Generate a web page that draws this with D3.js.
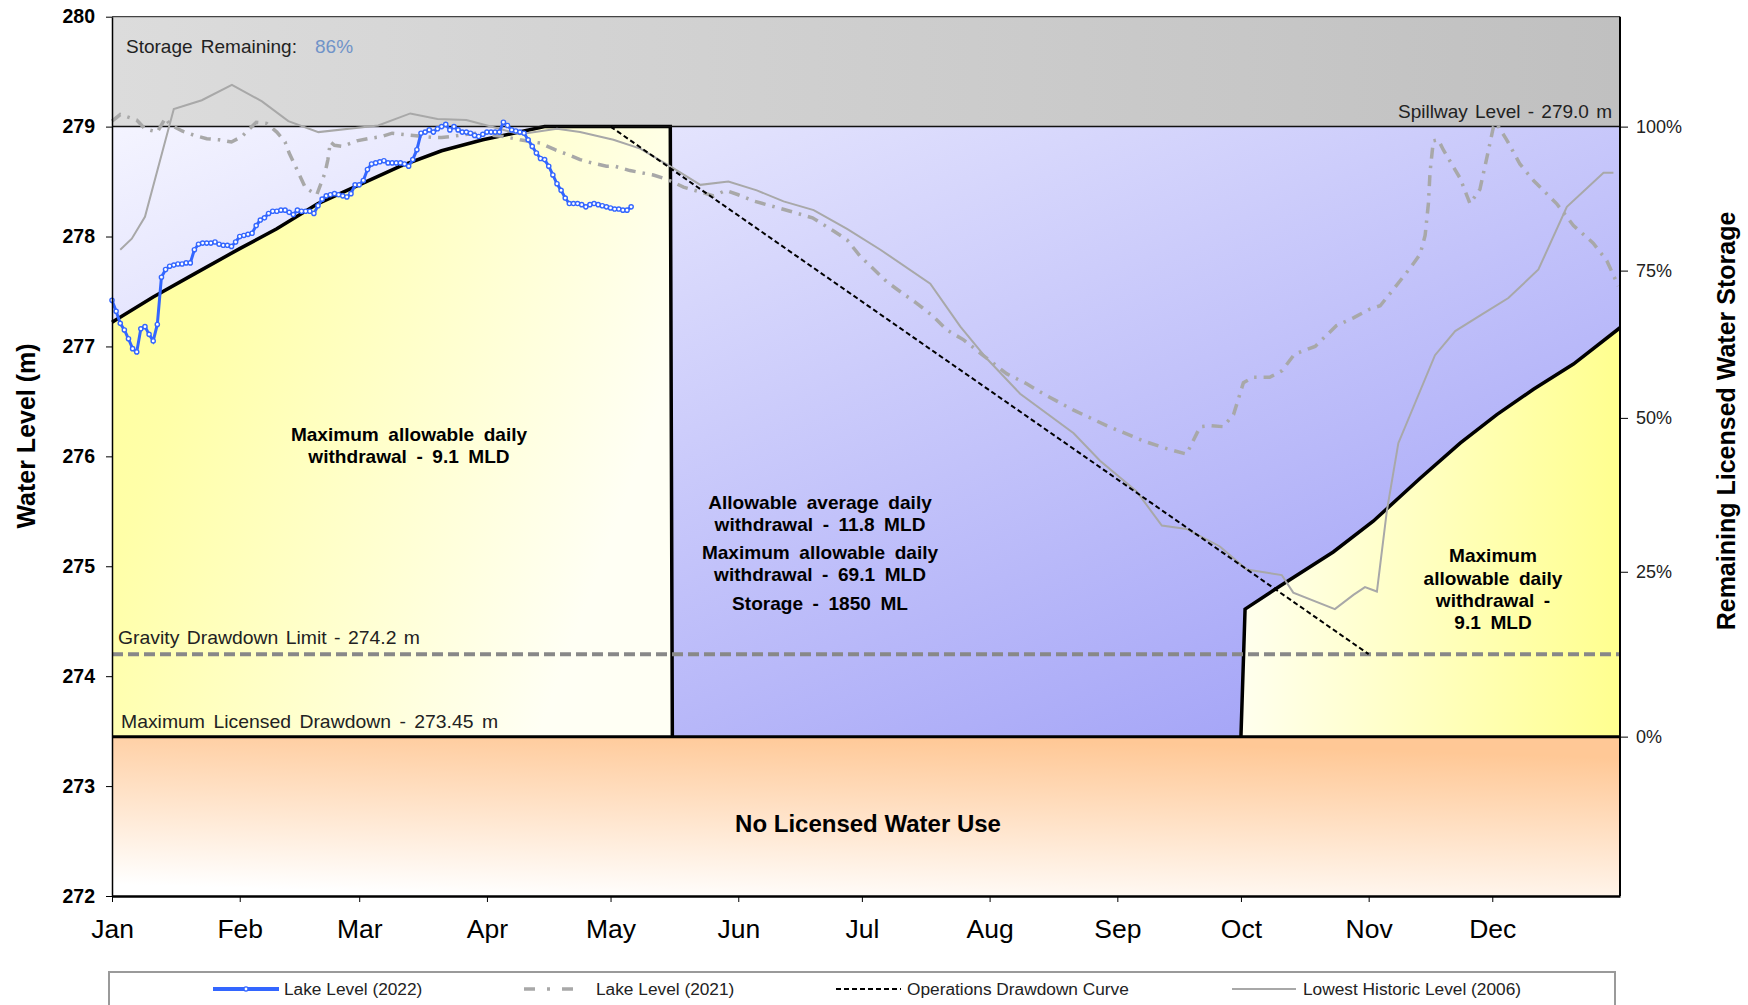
<!DOCTYPE html>
<html>
<head>
<meta charset="utf-8">
<script src="https://cdn.jsdelivr.net/npm/d3@7"></script>
<style>
    body { margin: 0; background: #fff; }
    svg { display: block; font-family: "Liberation Sans", Arial, sans-serif; }
</style>
</head>
<body>
<div class="container"></div>
<script>
// x axis: day of year (0..366), month starts
const monthNames = ["Jan", "Feb", "Mar", "Apr", "May", "Jun", "Jul", "Aug", "Sep", "Oct", "Nov", "Dec"];
const monthStart = [0, 31, 60, 91, 121, 152, 182, 213, 244, 274, 305, 335];
const levelTicks = [272, 273, 274, 275, 276, 277, 278, 279, 280];

// right axis: storage % vs level (not linear)
const storagePct = [0, 25, 50, 75, 100];
const storageLevel = [273.45, 274.95, 276.35, 277.69, 279.0];

const spillway = 279.0;
const gravityLimit = 274.2;
const maxDrawdown = 273.45;
const storageRemaining = "86%";

// lake level 2022, daily from Jan 1
const lake2022 = [
    277.42, 277.32, 277.21, 277.15, 277.07, 276.98, 276.95, 277.16, 277.18, 277.11,
    277.05, 277.20, 277.63, 277.70, 277.73, 277.74, 277.75, 277.75, 277.76, 277.76,
    277.88, 277.93, 277.94, 277.94, 277.94, 277.95, 277.93, 277.92, 277.92, 277.91,
    277.95, 278.00, 278.01, 278.02, 278.03, 278.10, 278.15, 278.17, 278.21, 278.23,
    278.23, 278.24, 278.24, 278.22, 278.20, 278.24, 278.23, 278.23, 278.23, 278.21,
    278.28, 278.34, 278.37, 278.38, 278.39, 278.38, 278.37, 278.36, 278.39, 278.47,
    278.47, 278.51, 278.61, 278.66, 278.67, 278.68, 278.69, 278.67, 278.67, 278.67,
    278.67, 278.66, 278.64, 278.70, 278.79, 278.94, 278.95, 278.97, 278.95, 278.98,
    279.00, 279.02, 278.97, 279.00, 278.97, 278.95, 278.95, 278.94, 278.92, 278.91,
    278.93, 278.95, 278.95, 278.95, 278.95, 279.04, 279.01, 278.97, 278.96, 278.95,
    278.94, 278.88, 278.82, 278.76, 278.71, 278.70, 278.64, 278.56, 278.48, 278.42,
    278.35, 278.30, 278.30, 278.30, 278.29, 278.27, 278.29, 278.30, 278.29, 278.28,
    278.27, 278.26, 278.25, 278.25, 278.24, 278.24, 278.27
];

// lake level 2021
const lake2021Day = [0, 2, 6, 8, 11, 13, 14, 17, 20, 23, 26, 29, 31.5, 35, 37.5, 40, 42, 43, 44.5, 47,
    49.7, 51.7, 52.4, 53, 54, 56, 59.4, 62, 65.5, 68, 78, 80, 88.5, 95, 99, 104, 107.5, 111, 113.6, 116.4,
    120, 122, 125.7, 131.4, 134.7, 138.7, 146, 149, 152, 156, 164.6, 170, 174.3, 178.4, 181.6, 188, 192, 195.4, 199.4, 202.6,
    206.7, 210.7, 217.2, 222, 226, 233.4, 241.4, 250.3, 256, 260.8, 264.1, 266.5, 269.7, 272.2, 274.6, 277, 281, 284, 287, 292,
    297.2, 301.3, 305.3, 307.8, 311, 315, 317.5, 318.7, 319.5, 319.9, 320.7, 321.9, 323.1, 327.2, 329.6, 332, 333.7, 335.3, 336, 338.5,
    341.7, 345, 350.6, 354.7, 359.5, 362.8, 365.6];
const lake2021Level = [279.05, 279.11, 279.06, 278.98, 278.95, 279.08, 279.02, 278.96, 278.92, 278.89, 278.88, 278.86, 278.91, 279.04, 279.03, 278.95, 278.86, 278.76, 278.64, 278.44,
    278.38, 278.58, 278.70, 278.86, 278.83, 278.82, 278.87, 278.89, 278.91, 278.94, 278.90, 278.90, 278.94, 278.91, 278.88, 278.85, 278.79, 278.74, 278.70, 278.67,
    278.64, 278.64, 278.60, 278.56, 278.52, 278.45, 278.37, 278.42, 278.38, 278.32, 278.23, 278.17, 278.07, 277.97, 277.82, 277.59, 277.48, 277.39, 277.27, 277.15,
    277.06, 276.94, 276.75, 276.66, 276.57, 276.42, 276.28, 276.14, 276.07, 276.02, 276.27, 276.28, 276.27, 276.38, 276.67, 276.72, 276.72, 276.78, 276.93, 277.00,
    277.19, 277.26, 277.34, 277.37, 277.52, 277.71, 277.84, 278.01, 278.30, 278.59, 278.87, 278.88, 278.79, 278.53, 278.30, 278.43, 278.72, 279.00, 279.03, 278.88,
    278.66, 278.51, 278.30, 278.10, 277.94, 277.78, 277.55];

// lowest historic level (2006)
const low2006Day = [2, 4.8, 8, 15, 21.8, 29.1, 36.4, 42.8, 50.1, 64.6, 72.4, 79, 86, 94, 99, 108, 113.6, 121.7, 128.2, 136.3,
    142.8, 149.6, 156.5, 163, 170.3, 178.4, 186.5, 198.6, 205.9, 212.3, 220.4, 233.4, 239.8, 248.7, 254.8, 260.8, 268.9, 275.4, 283.9, 286.7,
    296.8, 301.3, 304.1, 307, 309.4, 312.2, 321.1, 326, 332, 338.9, 346.2, 353.1, 362, 364.4];
const low2006Level = [277.88, 277.98, 278.18, 279.16, 279.24, 279.38, 279.23, 279.05, 278.95, 279.01, 279.12, 279.07, 279.06, 278.98, 278.93, 278.98, 278.95, 278.88, 278.80, 278.62,
    278.47, 278.50, 278.42, 278.32, 278.24, 278.07, 277.88, 277.57, 277.18, 276.89, 276.57, 276.21, 275.96, 275.68, 275.37, 275.34, 275.18, 274.97, 274.92, 274.76,
    274.61, 274.74, 274.81, 274.77, 275.50, 276.12, 276.92, 277.14, 277.28, 277.44, 277.70, 278.27, 278.58, 278.58];

// operations drawdown curve
const opsDay = [121, 305];
const opsLevel = [279.0, 274.2];

// licence rule curves (edges of the 9.1 MLD zones)
const ruleLeftDay = [0, 10, 20, 31, 40, 50, 60, 70, 80, 90, 100, 105, 135.5, 136];
const ruleLeftLevel = [277.22, 277.45, 277.66, 277.89, 278.07, 278.30, 278.47, 278.64, 278.78, 278.88, 278.96, 279.0, 279.0, 273.45];
const ruleRightDay = [274, 275, 283.5, 296.4, 306.1, 317.5, 327.2, 336.1, 345, 354.7, 366];
const ruleRightLevel = [273.45, 274.61, 274.82, 275.13, 275.41, 275.80, 276.12, 276.38, 276.61, 276.84, 277.17];

let margin = { top: 16.7, right: 128, bottom: 109, left: 112 },
    width = 1748 - margin.left - margin.right,
    height = 1005 - margin.top - margin.bottom;

let root = d3.select(".container")
    .append("svg")
    .attr("width", 1748)
    .attr("height", 1005);

let svg = root.append("g")
    .attr("transform", "translate(" + margin.left + "," + margin.top + ")");

let x = d3.scaleLinear().domain([0, 366]).range([0, width]);
let y = d3.scaleLinear().domain([272, 280]).range([height, 0]);
let yStore = d3.scaleLinear().domain(storagePct).range(storageLevel.map(y));

// gradients
let defs = root.append("defs");
const grad = (id, x1, y1, x2, y2, stops) => {
    let g = defs.append("linearGradient").attr("id", id)
        .attr("x1", x1).attr("y1", y1).attr("x2", x2).attr("y2", y2);
    stops.forEach(s => g.append("stop").attr("offset", s[0]).attr("stop-color", s[1]));
};
grad("gGray", 0, 0, 1, 0, [[0, "#dcdcdc"], [1, "#c0c0c0"]]);
grad("gBlue", 0, 0, 1, 1, [[0, "#f4f4ff"], [1, "#9b9bf6"]]);
grad("gYellowL", 0, 0, 1, 0.4, [[0, "#ffff99"], [0.25, "#ffffa8"], [1, "#fffff4"]]);
grad("gYellowR", 0, 0, 1, 0, [[0, "#ffffee"], [1, "#ffff8f"]]);
grad("gOrange", 0.25, 1, 0.55, 0, [[0, "#ffffff"], [1, "#ffc896"]]);

// background zones
svg.append("rect")
    .attr("x", 0).attr("y", y(280))
    .attr("width", width).attr("height", y(spillway) - y(280))
    .style("fill", "url(#gGray)");

svg.append("rect")
    .attr("x", 0).attr("y", y(spillway))
    .attr("width", width).attr("height", y(maxDrawdown) - y(spillway))
    .style("fill", "url(#gBlue)");

svg.append("rect")
    .attr("x", 0).attr("y", y(maxDrawdown))
    .attr("width", width).attr("height", y(272) - y(maxDrawdown))
    .style("fill", "url(#gOrange)");

let area = d3.area()
    .x(d => x(d[0]))
    .y0(y(maxDrawdown))
    .y1(d => y(d[1]));

let ruleLeft = ruleLeftDay.map((d, i) => [d, ruleLeftLevel[i]]);
let ruleRight = ruleRightDay.map((d, i) => [d, ruleRightLevel[i]]);

svg.append("path").datum(ruleLeft).attr("d", area).style("fill", "url(#gYellowL)");
svg.append("path").datum(ruleRight).attr("d", area).style("fill", "url(#gYellowR)");

let line = d3.line().x(d => x(d[0])).y(d => y(d[1]));

svg.append("path").datum(ruleLeft).attr("d", line)
    .style("fill", "none").attr("stroke", "black").attr("stroke-width", 3.5);
svg.append("path").datum(ruleRight).attr("d", line)
    .style("fill", "none").attr("stroke", "black").attr("stroke-width", 3.5);

// spillway + licensed drawdown lines
svg.append("line")
    .attr("x1", 0).attr("x2", width)
    .attr("y1", y(spillway)).attr("y2", y(spillway))
    .attr("stroke", "#111").attr("stroke-width", 1.5);
svg.append("line")
    .attr("x1", 0).attr("x2", width)
    .attr("y1", y(maxDrawdown)).attr("y2", y(maxDrawdown))
    .attr("stroke", "black").attr("stroke-width", 3);

// gravity limit
svg.append("line")
    .attr("x1", 0).attr("x2", width)
    .attr("y1", y(gravityLimit)).attr("y2", y(gravityLimit))
    .attr("stroke", "#888").attr("stroke-width", 4)
    .attr("stroke-dasharray", "11,5");

// series
svg.append("path")
    .datum(low2006Day.map((d, i) => [d, low2006Level[i]]))
    .attr("d", line)
    .style("fill", "none").attr("stroke", "#a8a8a8").attr("stroke-width", 2);

svg.append("path")
    .datum(lake2021Day.map((d, i) => [d, lake2021Level[i]]))
    .attr("d", line)
    .style("fill", "none").attr("stroke", "#a8a8a8").attr("stroke-width", 3.5)
    .attr("stroke-dasharray", "11,7,2.5,7");

svg.append("path")
    .datum(opsDay.map((d, i) => [d, opsLevel[i]]))
    .attr("d", line)
    .style("fill", "none").attr("stroke", "black").attr("stroke-width", 2)
    .attr("stroke-dasharray", "5,3");

let pts2022 = lake2022.map((v, i) => [i, v]);
svg.append("path")
    .datum(pts2022)
    .attr("d", line)
    .style("fill", "none").attr("stroke", "#3366ff").attr("stroke-width", 3);
svg.append("g")
    .selectAll("circle")
    .data(pts2022)
    .enter()
    .append("circle")
    .attr("cx", d => x(d[0]))
    .attr("cy", d => y(d[1]))
    .attr("r", 2.1)
    .style("fill", "white")
    .attr("stroke", "#3366ff")
    .attr("stroke-width", 1.4);

// frame
svg.append("line").attr("x1", 0).attr("x2", width).attr("y1", 0).attr("y2", 0)
    .attr("stroke", "#444").attr("stroke-width", 1.2);
svg.append("line").attr("x1", width).attr("x2", width).attr("y1", 0).attr("y2", height)
    .attr("stroke", "black").attr("stroke-width", 2);

// axes
let yAxis = svg.append("g")
    .call(d3.axisLeft(y).tickValues(levelTicks).tickSize(6).tickSizeOuter(0).tickPadding(11).tickFormat(d3.format("d")));
yAxis.selectAll("text").style("font-size", "19.5px").style("font-weight", "bold").attr("fill", "black");
yAxis.select(".domain").attr("stroke", "black").attr("stroke-width", 1.5);

let xAxis = svg.append("g")
    .attr("transform", "translate(0," + height + ")")
    .call(d3.axisBottom(x).tickValues(monthStart).tickSize(6).tickSizeOuter(0).tickPadding(17)
        .tickFormat((d, i) => monthNames[i]));
xAxis.selectAll("text").style("font-size", "26.5px").attr("fill", "black");
xAxis.select(".domain").attr("stroke", "black").attr("stroke-width", 2.5);

let rAxis = svg.append("g")
    .attr("transform", "translate(" + width + ",0)")
    .call(d3.axisRight(yStore).tickValues(storagePct).tickSize(8).tickPadding(8).tickFormat(d => d + "%"));
rAxis.select(".domain").remove();
rAxis.selectAll("text").style("font-size", "18px").attr("fill", "#222");

// axis titles
root.append("text")
    .attr("transform", "translate(26,436) rotate(-90)")
    .attr("text-anchor", "middle").attr("dominant-baseline", "central")
    .style("font-size", "25px").style("font-weight", "bold")
    .text("Water Level (m)");
root.append("text")
    .attr("transform", "translate(1726,421) rotate(-90)")
    .attr("text-anchor", "middle").attr("dominant-baseline", "central")
    .style("font-size", "25px").style("font-weight", "bold")
    .text("Remaining Licensed Water Storage");

// annotations (slightly stretched, wide word gaps like the original)
const note = (tx, ty, txt, size, opts) => {
    opts = opts || {};
    root.append("text")
        .attr("transform", "translate(" + tx + "," + ty + ") scale(" + (opts.sx || 1) + ",1)")
        .attr("text-anchor", opts.anchor || "start")
        .style("font-size", size + "px")
        .style("font-weight", opts.weight || "normal")
        .style("word-spacing", (opts.ws || 0) + "px")
        .attr("fill", opts.color || "#222")
        .text(txt);
};
const boldNote = { anchor: "middle", weight: "bold", color: "black", sx: 1.06, ws: 4 };

note(126, 53, "Storage Remaining:", 19, { ws: 3 });
note(315, 53, storageRemaining, 19, { color: "#7093c8" });
note(1612, 118, "Spillway Level - " + spillway.toFixed(1) + " m", 19, { anchor: "end", ws: 2 });
note(118, 644, "Gravity Drawdown Limit - " + gravityLimit.toFixed(1) + " m", 19, { ws: 2, sx: 1.02 });
note(121, 728, "Maximum Licensed Drawdown - " + maxDrawdown.toFixed(2) + " m", 19, { ws: 3, sx: 1.02 });

note(409, 441, "Maximum allowable daily", 18, boldNote);
note(409, 463, "withdrawal - 9.1 MLD", 18, boldNote);

note(820, 509, "Allowable average daily", 18, boldNote);
note(820, 531, "withdrawal - 11.8 MLD", 18, boldNote);
note(820, 559, "Maximum allowable daily", 18, boldNote);
note(820, 581, "withdrawal - 69.1 MLD", 18, boldNote);
note(820, 610, "Storage - 1850 ML", 18, boldNote);

note(1493, 562, "Maximum", 18, boldNote);
note(1493, 585, "allowable daily", 18, boldNote);
note(1493, 607, "withdrawal -", 18, boldNote);
note(1493, 629, "9.1 MLD", 18, boldNote);

note(868, 832, "No Licensed Water Use", 24, { anchor: "middle", weight: "bold", color: "black" });

// legend
root.append("rect")
    .attr("x", 109).attr("y", 972)
    .attr("width", 1506).attr("height", 60)
    .style("fill", "white")
    .attr("stroke", "#9a9a9a").attr("stroke-width", 2);

const legendItems = [
    { label: "Lake Level (2022)", x1: 213, x2: 279, tx: 284, color: "#3366ff", w: 4, dash: null, marker: true },
    { label: "Lake Level (2021)", x1: 524, x2: 580, tx: 596, color: "#a8a8a8", w: 3.5, dash: "11,12,3,12", marker: false },
    { label: "Operations Drawdown Curve", x1: 836, x2: 901, tx: 907, color: "black", w: 2, dash: "5,3", marker: false },
    { label: "Lowest Historic Level (2006)", x1: 1232, x2: 1296, tx: 1303, color: "#a8a8a8", w: 2, dash: null, marker: false }
];

let leg = root.append("g").selectAll("g").data(legendItems).enter().append("g");
leg.append("line")
    .attr("x1", d => d.x1).attr("x2", d => d.x2)
    .attr("y1", 989).attr("y2", 989)
    .attr("stroke", d => d.color).attr("stroke-width", d => d.w)
    .attr("stroke-dasharray", d => d.dash);
leg.filter(d => d.marker).append("circle")
    .attr("cx", d => (d.x1 + d.x2) / 2).attr("cy", 989).attr("r", 2.1)
    .style("fill", "white").attr("stroke", d => d.color).attr("stroke-width", 1.4);
leg.append("text")
    .attr("x", d => d.tx).attr("y", 995)
    .style("font-size", "17.3px").attr("fill", "#222")
    .text(d => d.label);
</script>
</body>
</html>
